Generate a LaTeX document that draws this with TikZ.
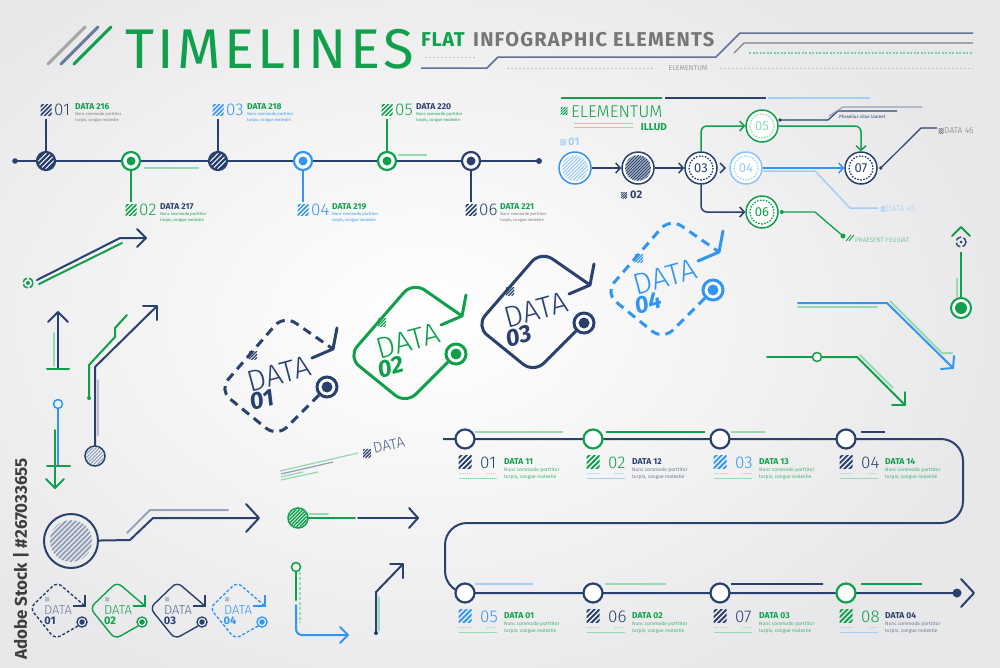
\documentclass[tikz,border=0pt]{standalone}
\usepackage{fontspec}
\setmainfont{Fira Sans}
\newfontfamily\lt{Fira Sans Light}
\usetikzlibrary{arrows.meta}
\definecolor{bgc}{RGB}{232,232,234}
\definecolor{navy}{RGB}{42,65,110}
\definecolor{grn}{RGB}{16,160,76}
\definecolor{blu}{RGB}{50,150,240}
\definecolor{pgrn}{RGB}{150,218,178}
\definecolor{pblu}{RGB}{165,205,245}
\definecolor{pnav}{RGB}{150,162,185}
\definecolor{gtx}{RGB}{118,118,118}
\definecolor{wmk}{RGB}{62,62,62}
\newcommand\fsz[1]{\fontsize{#1}{#1}\selectfont}
\newcommand\hicon[4]{%
 \begin{scope}
 \clip ({#1-#3/2},{#2-#3/2}) rectangle ({#1+#3/2},{#2+#3/2});
 \foreach \k in {-2,-1,0,1,2}
 \draw[#4, line width={#3*0.14}] ({#1+\k*#3*0.4-#3*0.6},{#2+#3*0.6}) -- ({#1+\k*#3*0.4+#3*0.6},{#2-#3*0.6});
 \end{scope}}
\newcommand\hdisc[6]{%
 \begin{scope}
 \clip (#1,#2) circle (#3);
 \foreach \k in {-12,...,12}
 \draw[#4, line width=#6] ({#1+\k*#5-#3},{#2+#3}) -- ({#1+\k*#5+#3},{#2-#3});
 \end{scope}}
\newcommand\tlabA[8]{%
 \hicon{#1}{#2}{11}{#3}
 \node[anchor=west,inner sep=0,text=#5,font=\lt\fsz{17}] (a#4n) at ({#1+8},#2) {#4};
 \node[anchor=base west,inner sep=0,text=#7,font=\bfseries\fsz{8.5}] (a#4t) at ({#1+29},{#2-0.5}) {#6};
 \node[anchor=north west,inner sep=0,text=#8,font=\fontsize{4.1}{5.8}\selectfont,align=left] (a#4s) at ({#1+29},{#2+2.5}) {Nunc commodo porttitor\\turpis, congue molestie};}
\newcommand\tlabB[9]{%
 \hicon{#1}{#2}{13}{#3}
 \node[anchor=west,inner sep=0,text=#5,font=\lt\fsz{17}] (b#4n) at ({#1+15},{#2+1}) {#4};
 \node[anchor=base west,inner sep=0,text=#7,font=\bfseries\fsz{8.5}] (b#4t) at ({#1+39},{#2+2.5}) {#6};
 \node[anchor=north west,inner sep=0,text=#8,font=\fontsize{4.9}{7.4}\selectfont,align=left] (b#4s) at ({#1+39},{#2+5.5}) {Nunc commodo porttitor\\turpis, congue molestie};
 \draw[#9,line width=0.8,dash pattern=on 1 off 1] ({#1-6},{#2+11}) -- ({#1+8},{#2+11}) ({#1+22},{#2+11}) -- ({#1+32},{#2+11});
 \draw[#9,line width=1] ({#1-6},{#2+16}) -- ({#1+32},{#2+16});}
\newcommand\bigtag[6]{%
 \begin{scope}[shift={(#1,#2)}]
 \draw[#3, line width=3, rounded corners=14, #4] (-8,8) -- (-50,50) -- (-108,3) -- (-43,-72) -- (6,-38);
 \draw[#3, line width=3, line cap=round, line join=round] (-15,-29) -- (6,-38) -- (10,-59);
 \node[circle, draw=#3, line width=3, fill=white, minimum size=20, inner sep=0] (#6) at (0,0) {};
 \fill[#3] (#6) circle (5.5);
 \node[text=#3, rotate=15, inner sep=0, font=\lt\fsz{30}] (#6d) at (-48,-13) {DATA};
 \node[text=#3, rotate=15, inner sep=0, font=\bfseries\itshape\fsz{24}] (#6n) at (-65,13) {#5};
 \hicon{-74}{-32}{8}{#3}
 \end{scope}}
\newcommand\smalltag[7]{%
 \begin{scope}[shift={(#1,#2)}]
 \draw[#3, line width=1.4, rounded corners=6, #4] (-4,4) -- (-27,17) -- (-52,-14) -- (-25,-40) -- (3,-16);
 \draw[#3, line width=1.4] (-9,-16) -- (3,-16) -- (3,-27);
 \node[circle,draw=#3,line width=1.4,fill=white,inner sep=0,minimum size=10] (#6) at (0,0) {};
 \fill[#3] (#6) circle (2.8);
 \node[text=#7,font=\lt\fsz{13},inner sep=0] (#6d) at (-24,-12) {DATA};
 \node[text=#3,font=\bfseries\fsz{11},inner sep=0] (#6n) at (-32,-1) {#5};
 \hicon{-35}{-23}{4}{pnav}
 \end{scope}}
\tikzset{
 tl/.style={line width=2},
 tring/.style={circle, inner sep=0, minimum size=#1, line width=2.2, fill=white},
 fc/.style={circle, inner sep=0, minimum size=32, line width=1.5, fill=white, font=\fsz{13}},
 dring/.style={line width=1.3, dash pattern=on 1.6 off 1.4},
 chev/.style={-{Straight Barb[length=4.5,width=10]}},
 lw/.style={line width=2, line cap=round, line join=round},
}
\begin{document}
\begin{tikzpicture}[x=1pt,y=-1pt]
\useasboundingbox (0,0) rectangle (1000,667);
\fill[bgc] (0,0) rectangle (1000,667);
\shade[inner color=white, outer color=bgc] (-150,-80) rectangle (1000,720);

% ---------- header
\draw[gray!70,line width=3,line cap=round] (48,64) -- (85,27);
\draw[pnav!60!navy,line width=3,line cap=round] (61,64) -- (98,27);
\draw[grn,line width=3,line cap=round] (74,64) -- (111,27);
\node[anchor=base west,inner sep=0,text=grn,font=\fsz{56}\addfontfeatures{LetterSpace=6}] (title) at (125,68) {TIMELINES};
\node[anchor=base west,inner sep=0,text=grn,font=\bfseries\fsz{20}\addfontfeatures{LetterSpace=3}] (flat) at (421,46) {FLAT};
\node[anchor=base west,inner sep=0,text=gtx,font=\bfseries\fsz{20}\addfontfeatures{LetterSpace=6}] (info) at (473,46) {INFOGRAPHIC ELEMENTS};
\draw[pnav!50!navy,line width=1.5] (421,68) -- (487,68) -- (498,57) -- (716,57) -- (740,33) -- (973,33);
\draw[gray,line width=1.3] (734,53) -- (744,43) -- (973,43);
\draw[gray!50,line width=1,dash pattern=on 2 off 2] (425,57) -- (475,57);
\draw[pgrn!80!grn,line width=1.3,dash pattern=on 2 off 1.5] (749,53) -- (973,53);
\draw[gray!50,line width=1,dash pattern=on 2 off 2] (507,68) -- (655,68);
\node[inner sep=0,text=gray!80,font=\fsz{7}] (elm) at (688,68) {ELEMENTUM};
\draw[gray!50,line width=1,dash pattern=on 2 off 2] (720,68) -- (973,68);

% ---------- top-left timeline
\coordinate (ts) at (15,161);
\coordinate (te) at (539,161);
\draw[navy,tl] (ts) -- (te);
\fill[navy] (ts) circle (2.8);
\fill[navy] (te) circle (3);
\draw[pgrn,tl] (144,168) -- (199,168);
\draw[pgrn,tl] (398,155) -- (427,155);
\coordinate (u1) at (46,119); \coordinate (d2) at (131,202);
\coordinate (u3) at (218,119); \coordinate (d4) at (303,202);
\coordinate (u5) at (387,119); \coordinate (d6) at (471,202);
\node[tring=18,draw=navy] (t1) at (46,161) {};
\hdisc{46}{161}{9}{navy}{5}{2.2}
\node[tring=18,draw=grn] (t2) at (131,161) {};
\fill[grn] (t2) circle (4.5);
\node[tring=18,draw=navy] (t3) at (218,161) {};
\hdisc{218}{161}{9}{navy}{5}{2.2}
\node[tring=18,draw=blu] (t4) at (303,161) {};
\fill[blu] (t4) circle (4.5);
\node[tring=18,draw=grn] (t5) at (387,161) {};
\fill[grn] (t5) circle (4.5);
\node[tring=18,draw=navy] (t6) at (471,161) {};
\fill[navy] (t6) circle (4.5);
\draw[navy,tl] (t1) -- (u1);
\draw[grn,tl] (t2) -- (d2);
\draw[navy,tl] (t3) -- (u3);
\draw[blu,tl] (t4) -- (d4);
\draw[grn,tl] (t5) -- (u5);
\draw[navy,tl] (t6) -- (d6);
\tlabA{46}{110}{navy}{01}{navy}{DATA 216}{grn}{gtx}
\tlabA{131}{210}{grn}{02}{grn}{DATA 217}{navy}{grn}
\tlabA{218}{110}{blu}{03}{blu}{DATA 218}{grn}{blu}
\tlabA{303}{210}{blu}{04}{blu}{DATA 219}{grn}{blu}
\tlabA{387}{110}{grn}{05}{grn}{DATA 220}{navy}{grn}
\tlabA{471}{210}{navy}{06}{navy}{DATA 221}{grn}{gtx}

% ---------- flow diagram
\draw[grn,line width=1.5] (561,98) -- (662,98);
\draw[navy,line width=1.5] (665,98) -- (766,98);
\draw[pblu,line width=1.5] (768,98) -- (870,98);
\hicon{564}{111}{7}{grn}
\node[anchor=west,inner sep=0,text=grn,font=\lt\fsz{17}] (el) at (571,112) {ELEMENTUM};
\draw[pgrn,line width=1] (574,123) -- (633,123) (574,127) -- (633,127);
\node[anchor=east,inner sep=0,text=grn,font=\bfseries\fsz{10}] (il) at (667,127) {ILLUD};
\hicon{563}{142}{6}{pblu}
\node[anchor=west,inner sep=0,text=pblu,font=\bfseries\fsz{11}] (n01) at (568,142) {01};
\hicon{624}{195}{6}{navy}
\node[anchor=west,inner sep=0,text=navy,font=\bfseries\fsz{11}] (n02) at (630,195) {02};

\node[fc,draw=blu] (f1) at (575,168) {};
\hdisc{575}{168}{13}{pblu}{3.5}{1.2}
\node[fc,draw=navy] (f2) at (638,168) {};
\hdisc{638}{168}{13}{navy}{3}{1.2}
\node[fc,draw=navy,text=navy] (f3) at (701,168) {03};
\draw[navy,dring] (f3.center) circle (12);
\node[fc,draw=blu!55,text=blu!50] (f4) at (746,168) {04};
\draw[blu!40,dring] (f4.center) circle (12);
\node[fc,draw=grn,text=pgrn] (f5) at (762,126) {05};
\draw[pgrn,dring] (f5.center) circle (12);
\node[fc,draw=grn,text=grn] (f6) at (762,212) {06};
\draw[grn,dring] (f6.center) circle (12);
\node[fc,draw=navy,text=navy] (f7) at (861,168) {07};
\draw[navy,dring] (f7.center) circle (12);

\draw[navy,line width=1.5,chev] (f1) -- (f2);
\draw[navy,line width=1.5,chev] (f2) -- (f3);
\draw[navy,line width=1.5] (720,163) -- (725,168) -- (720,173);
\draw[blu,line width=1.5,chev] (f4) -- (f7);
\draw[pblu,line width=1.5] ([yshift=-3]f4.east) -- (815,171) -- (850,208) -- (878,208);
\hicon{883}{209}{5}{pblu}
\node[anchor=west,inner sep=0,text=pblu,font=\lt\fsz{8.5}] (d45) at (886,209) {DATA 45};
\draw[grn,line width=1.5,chev,rounded corners=6] (f3.north) |- (f5.west);
\draw[navy,line width=1.5,chev,rounded corners=6] (f3.south) |- (f6.west);
\draw[grn,line width=1.5,chev,rounded corners=6] (f5.east) -| (f7.north);
\fill[grn] ([xshift=3]f6.east) circle (2);
\draw[grn,line width=1.3] ([xshift=3]f6.east) -- (815,212) -- (843,236);
\fill[grn] (843,236) circle (2.5);
\draw[grn,line width=0.9] (846,241) -- (851,235) (849,241) -- (854,235);
\node[anchor=west,inner sep=0,text=grn!80,font=\lt\fsz{6.5}] (pf) at (855,240) {PRAESENT FEUGIAT};
\coordinate (p5) at (780,120);
\fill[navy] (p5) circle (1.8);
\draw[navy,line width=1.2] (p5) -- (828,120) -- (838,111) -- (897,111);
\draw[pnav,line width=1.2] (829,116) -- (843,107) -- (922,107);
\node[anchor=west,inner sep=0,text=navy,font=\fsz{4.5}] (ph) at (839,117) {Phaselius vitae laoreet};
\coordinate (p7) at ([xshift=3]f7.east);
\fill[navy] (p7) circle (1.8);
\draw[navy,line width=1.2] (p7) -- (921,128) -- (937,128);
\hicon{941}{131}{5}{gtx}
\node[anchor=west,inner sep=0,text=gtx,font=\lt\fsz{8.5}] (d46) at (944,131) {DATA 46};

% ---------- right elements
\draw[grn,lw] (952,236) -- (961,227) -- (970,236);
\draw[navy,line width=1.3,dash pattern=on 6 off 2.5] (961,242) circle (5);
\fill[navy] (961,242) circle (1.5);
\node[circle,draw=grn,line width=2,fill=white,minimum size=20,inner sep=0] (tg) at (961,308) {};
\fill[grn] (tg) circle (6);
\coordinate (tgt) at (961,252);
\draw[grn,tl] (tgt) -- (tg);
\draw[pgrn,tl] (957,278) -- (957,297);
\draw[blu,lw] (798,303) -- (887,303) -- (953,368);
\draw[blu,lw] (954,356) -- (953,368) -- (941,369);
\draw[pgrn,lw] (798,307) -- (877,307);
\draw[pgrn,lw] (890,301) -- (942,353) -- (952,353);
\node[circle,draw=grn,line width=1.5,fill=white,minimum size=9,inner sep=0] (gr) at (817,357) {};
\coordinate (ga) at (767,357);
\draw[grn,lw] (ga) -- (gr);
\draw[grn,lw] (gr) -- (857,357) -- (905,405);
\draw[grn,lw] (905,392) -- (905,405) -- (892,405);
\draw[pgrn,lw] (860,355) -- (893,388);

% ---------- big tags
\bigtag{327}{387}{navy}{dash pattern=on 9 off 6}{01}{g1}
\bigtag{456}{354}{grn}{}{02}{g2}
\bigtag{584}{323}{navy}{}{03}{g3}
\bigtag{713}{290}{blu}{dash pattern=on 9 off 6}{04}{g4}

% ---------- middle DATA
\draw[pgrn,line width=1.3] (280,471) -- (358,453);
\draw[pnav,line width=1.3] (281,474) -- (333,462);
\draw[pgrn,line width=1.3] (281,477) -- (303,472);
\draw[pgrn,line width=1.3] (281,480) -- (318,472);
\hicon{367}{453}{8}{navy}
\node[rotate=13,anchor=west,inner sep=0,text=navy!85,font=\lt\fsz{15}] (md) at (373,449) {DATA};

% ---------- bottom-right timeline
\coordinate (bs) at (443,439);
\coordinate (be) at (957,593);
\draw[navy,tl,rounded corners=22] (bs) -- (963,439) -- (963,523) -- (445,523) -- (445,593) -- (be);
\fill[navy] (be) circle (4.5);
\draw[navy,lw] (961,579) -- (974,593) -- (961,607);
\draw[pgrn,tl] (475,432) -- (563,432);
\draw[grn,tl] (606,432) -- (705,432);
\draw[pgrn,tl] (731,432) -- (765,432);
\draw[navy,tl] (861,432) -- (885,432);
\draw[pblu,tl] (475,584) -- (533,584);
\draw[pgrn,tl] (605,584) -- (666,584);
\draw[navy,tl] (731,584) -- (823,584);
\draw[grn,tl] (861,584) -- (922,584);
\node[tring=19,draw=navy] (b1) at (465,439) {};
\node[tring=19,draw=grn] (b2) at (593,439) {};
\node[tring=19,draw=navy] (b3) at (720,439) {};
\node[tring=19,draw=navy] (b4) at (846,439) {};
\node[tring=19,draw=navy] (b5) at (465,593) {};
\node[tring=19,draw=navy] (b6) at (593,593) {};
\node[tring=19,draw=navy] (b7) at (720,593) {};
\node[tring=19,draw=grn] (b8) at (846,593) {};
\tlabB{465}{462}{navy}{01}{navy}{DATA 11}{grn}{grn!80}{pgrn}
\tlabB{593}{462}{grn}{02}{grn}{DATA 12}{navy}{navy!70}{pblu}
\tlabB{720}{462}{blu}{03}{blu}{DATA 13}{grn}{grn!80}{pgrn}
\tlabB{846}{462}{navy}{04}{navy}{DATA 14}{grn}{grn!80}{pgrn}
\tlabB{465}{616}{blu}{05}{blu}{DATA 01}{grn}{grn!80}{pgrn}
\tlabB{593}{616}{navy}{06}{navy}{DATA 02}{grn}{grn!80}{pgrn}
\tlabB{720}{616}{navy}{07}{navy}{DATA 03}{grn}{grn!80}{pgrn}
\tlabB{846}{616}{grn}{08}{grn}{DATA 04}{navy}{navy!70}{pblu}

% ---------- left elements
\draw[navy,lw] (37,280) -- (120,238) -- (146,238);
\draw[navy,lw] (137,229) -- (146,238) -- (137,247);
\draw[grn,lw] (39,284) -- (122,243);
\draw[grn,line width=1.5,dash pattern=on 6 off 2] (28,283) circle (5);
\fill[grn] (28,283) circle (2);
\draw[navy,lw] (58,368) -- (58,312);
\draw[navy,lw] (48,322) -- (58,312) -- (68,322);
\draw[grn,lw] (47,369) -- (69,369);
\draw[pgrn,lw] (54,333) -- (54,366);
\fill[grn] (89,398) circle (2);
\draw[grn,lw] (89,398) -- (89,365) -- (115,337) -- (115,328) -- (127,315);
\node[circle,draw=navy,line width=1.5,minimum size=20,inner sep=0,fill=white] (ball) at (95,456) {};
\hdisc{95}{456}{9}{pnav}{3.5}{1.2}
\draw[navy,lw] (ball) -- (95,367) -- (157,306);
\draw[navy,lw] (143,306) -- (157,306) -- (157,320);
\draw[pnav!70,lw] (98,380) -- (98,435);
\node[circle,draw=blu,line width=1.5,minimum size=9,inner sep=0] (bst) at (58,404) {};
\coordinate (bse) at (58,465);
\draw[blu,lw] (bst) -- (bse);
\draw[grn,lw] (47,466) -- (70,466);
\draw[grn,lw] (55,430) -- (55,488);
\draw[grn,lw] (46,479) -- (55,488) -- (64,479);

% ---------- bottom-left elements
\node[circle,draw=navy,line width=2,minimum size=54,inner sep=0] (bigc) at (71,541) {};
\hdisc{71}{541}{21}{pnav}{5}{2}
\draw[navy,lw] (bigc) -- (130,540) -- (153,518) -- (258,518);
\draw[navy,lw] (246,504) -- (259,518) -- (246,532);
\draw[pnav,lw] (127,533) -- (150,510) -- (228,510);
\node[circle,draw=grn,line width=1.5,minimum size=20,inner sep=0] (gb) at (298,518) {};
\hdisc{298}{518}{9}{grn}{3.5}{1.4}
\draw[grn,lw] (gb) -- (355,518);
\draw[pgrn,lw] (310,514) -- (328,514);
\draw[navy,lw] (358,518) -- (418,518);
\draw[navy,lw] (409,508) -- (418,518) -- (409,528);
\node[circle,draw=grn,line width=1.5,minimum size=9,inner sep=0] (lr) at (296,567) {};
\draw[grn,lw] (lr) -- (296,600);
\draw[pgrn,line width=1.3,dash pattern=on 3 off 2] (300,572) -- (300,623);
\draw[blu,lw,rounded corners=6] (296,605) -- (296,635) -- (348,635);
\draw[blu,lw] (340,627) -- (348,635) -- (340,643);
\fill[navy] (376,633) circle (2);
\draw[navy,lw] (376,633) -- (376,592) -- (403,564);
\draw[navy,lw] (390,564) -- (403,564) -- (403,578);
\draw[pgrn,lw] (379,597) -- (379,630);
\smalltag{82}{622}{navy}{dash pattern=on 3 off 2}{01}{s1}{pnav!60!navy}
\smalltag{142}{622}{grn}{}{02}{s2}{grn}
\smalltag{202}{622}{navy}{}{03}{s3}{pnav!40!navy}
\smalltag{262}{622}{blu}{dash pattern=on 3 off 2}{04}{s4}{blu}

% ---------- vertical stock label
\node[rotate=90,anchor=west,inner sep=0,text=wmk,font=\bfseries\fsz{17}] (wm) at (21,660) {Adobe Stock | \#267033655};
\end{tikzpicture}
\end{document}
